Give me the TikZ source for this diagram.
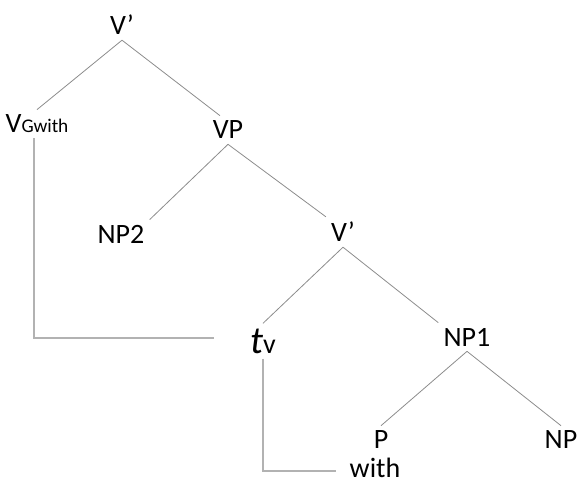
\documentclass[tikz,border=0pt]{standalone}
\usepackage{fontspec}
\setmainfont{Carlito}
\definecolor{branchgray}{RGB}{140,140,140}
\definecolor{movegray}{RGB}{178,178,178}
\begin{document}
\begin{tikzpicture}[x=0.75pt, y=-0.75pt,
    every node/.style={inner sep=0pt, outer sep=4pt, font=\fontsize{21}{25}\selectfont},
    branch/.style={draw=branchgray, line width=0.6pt},
    movement/.style={draw=movegray, line width=1.3pt}]
    \useasboundingbox (0,0) rectangle (577,484);

    \node (vbar) at (122,25) {V’};
    \node (vg) at (37,124) {V{\fontsize{14.5}{14.5}\selectfont Gwith}};
    \node (vp) at (228,130) {VP};
    \node (np2) at (121,234) {NP2};
    \node (vbartwo) at (343,232) {V’};
    \node (tv) at (263,341) {{\fontsize{29}{29}\selectfont\itshape t}v};
    \node (npone) at (467,337) {NP1};
    \node (p) at (381,440) {P};
    \node (np) at (561,440) {NP};
    \node (with) at (375,468) {with};

    \draw[branch] (vbar.south) -- (vg.north);
    \draw[branch] (vbar.south) -- ([xshift=-6pt]vp.north);
    \draw[branch] (vp.south) -- (np2.north east);
    \draw[branch] (vp.south) -- (vbartwo.north west);
    \draw[branch] (vbartwo.south) -- (tv.north);
    \draw[branch] (vbartwo.south) -- (npone.north west);
    \draw[branch] (npone.south) -- (p.north);
    \draw[branch] (npone.south) -- (np.north);

    \draw[movement, shorten >=23pt] ([xshift=-2pt]vg.south) |- ([yshift=2pt]tv.west);
    \draw[movement, shorten >=6pt] (tv.south) |- ([yshift=-2pt]with.west);
\end{tikzpicture}
\end{document}
